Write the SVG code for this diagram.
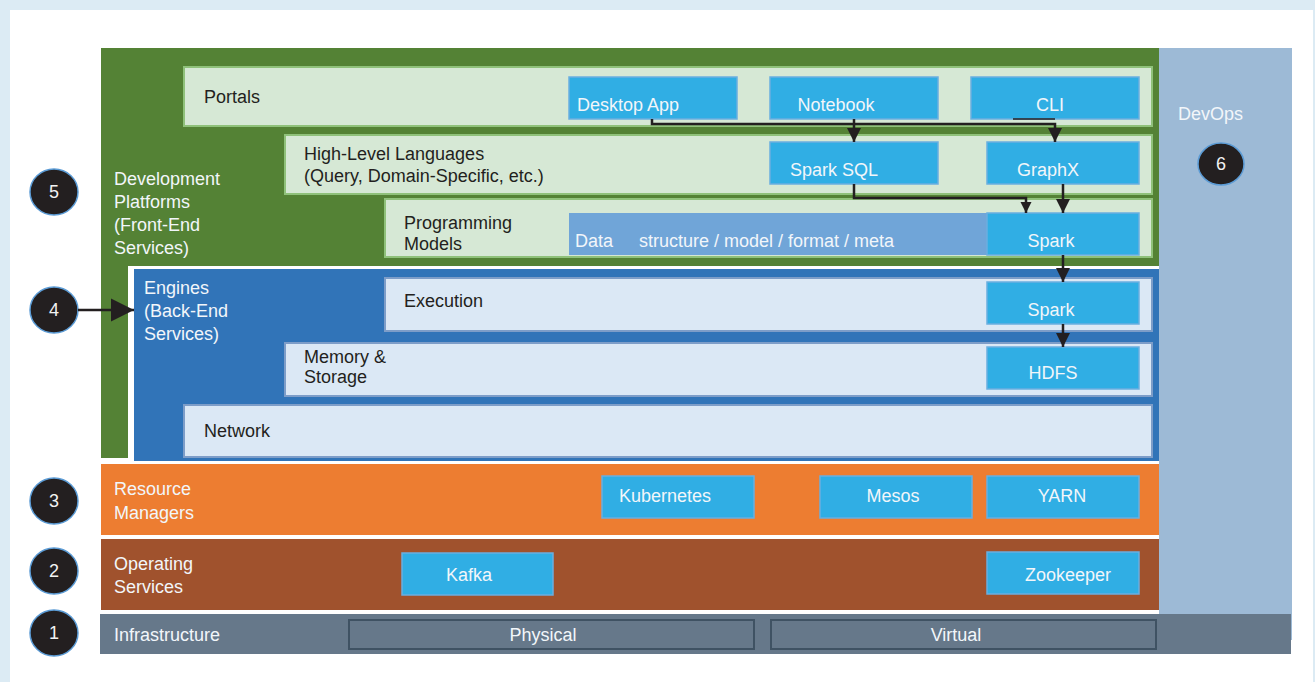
<svg xmlns="http://www.w3.org/2000/svg" width="1315" height="682" viewBox="0 0 1315 682">
<defs>
<style>
text{font-family:"Liberation Sans",Arial,sans-serif;font-size:18px}
.dk{fill:#231f20}
.lt{fill:#f2f6fa}
.mid{text-anchor:middle}
.tool{fill:#30aee4;stroke:#6aaee0;stroke-width:1.5}
.lg{fill:#d6e8d5;stroke:#8fc17a;stroke-width:2}
.lb{fill:#dbe8f5;stroke:#7d9dc8;stroke-width:2}
.num{fill:#231f20;stroke:#5b9bd5;stroke-width:1.5}
.numt{fill:#f2f2f2;text-anchor:middle;font-size:18px}
.con{fill:none;stroke:#231f20;stroke-width:2.5}
</style>
<marker id="ah" viewBox="0 0 10 10" refX="10" refY="5" markerUnits="userSpaceOnUse" markerWidth="14" markerHeight="15" orient="auto"><path d="M0,0 L10,5 L0,10 z" fill="#231f20"/></marker>
<marker id="ahs" viewBox="0 0 10 10" refX="10" refY="5" markerUnits="userSpaceOnUse" markerWidth="11" markerHeight="12" orient="auto"><path d="M0,0 L10,5 L0,10 z" fill="#231f20"/></marker>
<marker id="ahb" viewBox="0 0 10 10" refX="10" refY="5" markerUnits="userSpaceOnUse" markerWidth="23" markerHeight="26" orient="auto"><path d="M0,0 L10,5 L0,10 z" fill="#231f20"/></marker>
</defs>
<rect x="0" y="0" width="1315" height="682" fill="#dcebf4"/>
<rect x="10" y="10" width="1303" height="672" fill="#ffffff"/>

<g id="layer-devops">
<rect x="1159" y="48" width="133" height="592" fill="#9dbad6"/>
<text x="1178" y="120" class="lt">DevOps</text>
</g>

<g id="layer-dev">
<rect x="101" y="48" width="1058" height="410" fill="#548235"/>
<text class="lt" x="114" y="185">Development</text>
<text class="lt" x="114" y="208">Platforms</text>
<text class="lt" x="114" y="231">(Front-End</text>
<text class="lt" x="114" y="254">Services)</text>
</g>

<g id="layer-engines">
<rect x="128" y="266" width="1031" height="198" fill="#ffffff"/>
<rect x="134" y="269" width="1025" height="192" fill="#3174b8"/>
<text class="lt" x="144" y="294">Engines</text>
<text class="lt" x="144" y="317">(Back-End</text>
<text class="lt" x="144" y="340">Services)</text>
</g>

<g id="portals">
<rect class="lg" x="184" y="67" width="968" height="59"/>
<text class="dk" x="204" y="103">Portals</text>
</g>
<g id="hll">
<rect class="lg" x="285" y="135" width="867" height="59"/>
<text class="dk" x="304" y="160">High-Level Languages</text>
<text class="dk" x="304" y="182">(Query, Domain-Specific, etc.)</text>
</g>
<g id="progmodels">
<rect class="lg" x="385" y="199" width="767" height="58"/>
<text class="dk" x="404" y="229">Programming</text>
<text class="dk" x="404" y="250">Models</text>
</g>
<g id="data">
<rect x="569" y="213" width="420" height="42" fill="#70a5d8"/>
<text class="lt" x="575" y="247">Data</text>
<text class="lt" x="639" y="247">structure / model / format / meta</text>
</g>

<g id="desktop"><rect class="tool" x="569" y="77" width="168" height="42"/><text class="lt" x="577" y="111">Desktop App</text></g>
<g id="notebook"><rect class="tool" x="770" y="77" width="168" height="42"/><text class="lt mid" x="836" y="111">Notebook</text></g>
<g id="cli"><rect class="tool" x="971" y="77" width="168" height="42"/><text class="lt mid" x="1050" y="111">CLI</text></g>
<g id="sparksql"><rect class="tool" x="770" y="142" width="168" height="42"/><text class="lt mid" x="834" y="176">Spark SQL</text></g>
<g id="graphx"><rect class="tool" x="987" y="142" width="152" height="42"/><text class="lt mid" x="1048" y="176">GraphX</text></g>
<g id="spark-pm"><rect class="tool" x="987" y="213" width="152" height="42"/><text class="lt mid" x="1051" y="247">Spark</text></g>

<g id="execution">
<rect class="lb" x="385" y="278" width="767" height="53"/>
<text class="dk" x="404" y="307">Execution</text>
</g>
<g id="memory">
<rect class="lb" x="285" y="343" width="867" height="53"/>
<text class="dk" x="304" y="363">Memory &amp;</text>
<text class="dk" x="304" y="383">Storage</text>
</g>
<g id="network">
<rect class="lb" x="184" y="405" width="968" height="52"/>
<text class="dk" x="204" y="437">Network</text>
</g>
<g id="spark-exec"><rect class="tool" x="987" y="282" width="152" height="42"/><text class="lt mid" x="1051" y="316">Spark</text></g>
<g id="hdfs"><rect class="tool" x="987" y="347" width="152" height="42"/><text class="lt mid" x="1053" y="379">HDFS</text></g>

<g id="layer-resource">
<rect x="101" y="464" width="1058" height="71" fill="#ed7d31"/>
<text class="lt" x="114" y="495">Resource</text>
<text class="lt" x="114" y="519">Managers</text>
</g>
<g id="kubernetes"><rect class="tool" x="602" y="476" width="152" height="42"/><text class="lt" x="619" y="502">Kubernetes</text></g>
<g id="mesos"><rect class="tool" x="820" y="476" width="152" height="42"/><text class="lt mid" x="893" y="502">Mesos</text></g>
<g id="yarn"><rect class="tool" x="987" y="476" width="152" height="42"/><text class="lt mid" x="1062" y="502">YARN</text></g>

<g id="layer-operating">
<rect x="101" y="539" width="1058" height="71" fill="#a0522d"/>
<text class="lt" x="114" y="570">Operating</text>
<text class="lt" x="114" y="593">Services</text>
</g>
<g id="kafka"><rect class="tool" x="402" y="553" width="151" height="42"/><text class="lt" x="446" y="581">Kafka</text></g>
<g id="zookeeper"><rect class="tool" x="987" y="552" width="152" height="42"/><text class="lt mid" x="1068" y="581">Zookeeper</text></g>

<g id="layer-infra">
<rect x="100" y="614" width="1191" height="40" fill="#66788a"/>
<text class="lt" x="114" y="641">Infrastructure</text>
</g>
<g id="physical"><rect x="349" y="620" width="405" height="29" fill="#66788a" stroke="#3f5263" stroke-width="2"/><text class="lt mid" x="543" y="641">Physical</text></g>
<g id="virtual"><rect x="771" y="620" width="385" height="29" fill="#66788a" stroke="#3f5263" stroke-width="2"/><text class="lt mid" x="956" y="641">Virtual</text></g>

<g id="n5"><ellipse class="num" cx="54" cy="192" rx="24" ry="23"/><text class="numt" x="54" y="198">5</text></g>
<g id="n4"><ellipse class="num" cx="54" cy="310" rx="24" ry="23"/><text class="numt" x="54" y="316">4</text></g>
<g id="n3"><ellipse class="num" cx="54" cy="501" rx="24" ry="23"/><text class="numt" x="54" y="507">3</text></g>
<g id="n2"><ellipse class="num" cx="54" cy="571" rx="24" ry="23"/><text class="numt" x="54" y="577">2</text></g>
<g id="n1"><ellipse class="num" cx="54" cy="633" rx="24" ry="23"/><text class="numt" x="54" y="639">1</text></g>
<g id="n6"><ellipse class="num" cx="1221" cy="164" rx="23" ry="21"/><text class="numt" x="1221" y="170">6</text></g>

<g id="connectors">
<path class="con" d="M652,119 V124 H1055 V142" marker-end="url(#ah)"/>
<path d="M1013,119 H1055" fill="none" stroke="#231f20" stroke-width="1.5"/>
<path class="con" d="M854,119 V142" marker-end="url(#ah)"/>
<path class="con" d="M854,184 V198 H1026 V213" marker-end="url(#ahs)"/>
<path class="con" d="M1063,184 V213" marker-end="url(#ah)"/>
<path class="con" d="M1063,255 V282" marker-end="url(#ah)"/>
<path class="con" d="M1063,324 V347" marker-end="url(#ah)"/>
<path class="con" d="M78,310 H134" marker-end="url(#ahb)"/>
</g>
</svg>
